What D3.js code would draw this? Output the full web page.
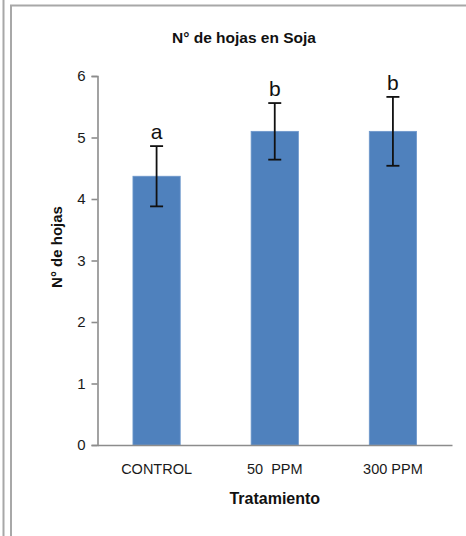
<!DOCTYPE html>
<html><head><meta charset="utf-8">
<script src="https://cdn.jsdelivr.net/npm/d3@7"></script>
<style>body{margin:0;background:#fff}svg{display:block}</style>
</head><body>
<svg id="c" width="466" height="536"></svg>
<script>
const categories = ["CONTROL", "50  PPM", "300 PPM"];
const values = [4.37, 5.1, 5.1];
const errors = [0.49, 0.46, 0.56];
const letters = ["a", "b", "b"];
const yTicks = [0, 1, 2, 3, 4, 5, 6];
const title = "N° de hojas en Soja";
const xTitle = "Tratamiento";
const yTitle = "N° de hojas";

(function () {
const svg = d3.select("#c");
const font = "'Liberation Sans', Arial, sans-serif";

// frame lines
svg.append("line").attr("x1",3.5).attr("x2",3.5).attr("y1",0).attr("y2",536).attr("stroke","#a8a8a8").attr("stroke-width",2);
svg.append("line").attr("x1",11).attr("x2",11).attr("y1",5).attr("y2",536).attr("stroke","#a8a8a8").attr("stroke-width",2);
svg.append("line").attr("x1",10).attr("x2",466).attr("y1",5.5).attr("y2",5.5).attr("stroke","#a8a8a8").attr("stroke-width",2);

const pL = 97.5, pR = 452, pT = 76, pB = 445;
const x = d3.scaleBand().domain(categories).range([pL, pR]).paddingInner(0.6).paddingOuter(0.3);
const y = d3.scaleLinear().domain([0, 6]).range([pB, pT]);

// bars
svg.append("g").selectAll("rect").data(values).join("rect")
  .attr("x", (d,i) => x(categories[i]))
  .attr("y", d => y(d))
  .attr("width", x.bandwidth())
  .attr("height", d => y(0) - y(d))
  .attr("fill", "#4F81BD")
  .attr("stroke", "#6d97cb").attr("stroke-width", 0.8);

// y axis
const yAxis = svg.append("g").attr("transform", `translate(${pL},0)`)
  .call(d3.axisLeft(y).tickValues(yTicks).tickSize(6).tickPadding(6).tickFormat(d3.format("d")));
yAxis.select(".domain").attr("stroke", "#8c8c8c").attr("stroke-width", 1.6);
yAxis.selectAll(".tick line").attr("stroke", "#8c8c8c").attr("stroke-width", 1.6);
yAxis.selectAll(".tick text").attr("font-family", font).attr("font-size", 15).attr("fill", "#1a1a1a");

// x axis
const xAxis = svg.append("g").attr("transform", `translate(0,${pB})`)
  .call(d3.axisBottom(x).tickSize(0).tickPadding(19));
xAxis.select(".domain").attr("stroke", "#8c8c8c").attr("stroke-width", 1.6);
xAxis.selectAll(".tick text").attr("font-family", font).attr("font-size", 14.5).attr("fill", "#1a1a1a")
  .attr("dy", "0.71em").style("white-space", "pre");

// error bars
const eb = svg.append("g").attr("stroke", "#111").attr("stroke-width", 1.8);
values.forEach((v, i) => {
  const cx = x(categories[i]) + x.bandwidth() / 2;
  eb.append("line").attr("x1", cx).attr("x2", cx).attr("y1", y(v + errors[i])).attr("y2", y(v - errors[i]));
  eb.append("line").attr("x1", cx - 6.5).attr("x2", cx + 6.5).attr("y1", y(v + errors[i])).attr("y2", y(v + errors[i]));
  eb.append("line").attr("x1", cx - 6.5).attr("x2", cx + 6.5).attr("y1", y(v - errors[i])).attr("y2", y(v - errors[i]));
});

// letters
svg.append("g").selectAll("text").data(letters).join("text")
  .attr("x", (d,i) => x(categories[i]) + x.bandwidth() / 2)
  .attr("y", (d,i) => y(values[i] + errors[i]) - 7)
  .attr("text-anchor", "middle")
  .attr("font-family", font).attr("font-size", 21).attr("fill", "#111")
  .text(d => d);

// titles
svg.append("text").attr("x", 244).attr("y", 43).attr("text-anchor", "middle")
  .attr("font-family", font).attr("font-size", 15.5).attr("font-weight", "bold").attr("fill", "#111").text(title);
svg.append("text").attr("x", (pL + pR) / 2).attr("y", 504).attr("text-anchor", "middle")
  .attr("font-family", font).attr("font-size", 16).attr("font-weight", "bold").attr("fill", "#111").text(xTitle);
svg.append("text").attr("transform", `translate(62,247) rotate(-90)`).attr("text-anchor", "middle")
  .attr("font-family", font).attr("font-size", 15).attr("font-weight", "bold").attr("fill", "#111").text(yTitle);
})();
</script>
</body></html>
